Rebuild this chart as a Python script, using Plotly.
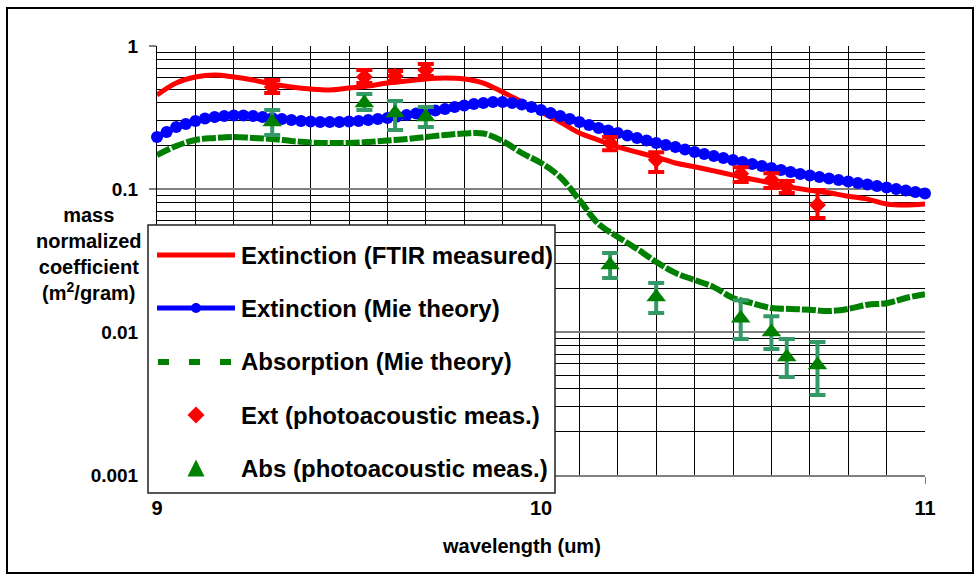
import plotly.graph_objects as go

# ---------------- data ----------------
wl_curve = [9.00, 9.05, 9.10, 9.15, 9.20, 9.25, 9.30, 9.35, 9.40, 9.45,
            9.50, 9.55, 9.60, 9.65, 9.70, 9.75, 9.80, 9.85, 9.90, 9.95,
            10.00, 10.05, 10.10, 10.15, 10.20, 10.25, 10.30, 10.35, 10.40, 10.45,
            10.50, 10.55, 10.60, 10.65, 10.70, 10.75, 10.80, 10.85, 10.90, 10.95,
            11.00]

ext_ftir = [0.454, 0.551, 0.607, 0.627, 0.607, 0.578, 0.542, 0.517, 0.500, 0.492,
            0.508, 0.525, 0.551, 0.569, 0.588, 0.597, 0.588, 0.551, 0.477, 0.406,
            0.346, 0.294, 0.246, 0.220, 0.197, 0.181, 0.167, 0.152, 0.143, 0.134,
            0.125, 0.117, 0.110, 0.103, 0.098, 0.094, 0.089, 0.085, 0.0785, 0.0773,
            0.0785]

abs_mie = [0.1729, 0.1998, 0.2202, 0.2273, 0.2311, 0.2273, 0.2237, 0.2166, 0.2114, 0.2098,
           0.2098, 0.2132, 0.2184, 0.2237, 0.2311, 0.2385, 0.2443, 0.2443, 0.2166, 0.1785,
           0.1520, 0.1213, 0.0838, 0.0570, 0.0462, 0.0381, 0.0309, 0.0259, 0.0231, 0.0206,
           0.0173, 0.0159, 0.0147, 0.0145, 0.0143, 0.0140, 0.0145, 0.0155, 0.0159, 0.0173,
           0.0184]

wl_mie = [9.000, 9.025, 9.050, 9.075, 9.100, 9.125, 9.150, 9.175, 9.200, 9.225,
          9.250, 9.275, 9.300, 9.325, 9.350, 9.375, 9.400, 9.425, 9.450, 9.475,
          9.500, 9.525, 9.550, 9.575, 9.600, 9.625, 9.650, 9.675, 9.700, 9.725,
          9.750, 9.775, 9.800, 9.825, 9.850, 9.875, 9.900, 9.925, 9.950, 9.975,
          10.000, 10.025, 10.050, 10.075, 10.100, 10.125, 10.150, 10.175, 10.200, 10.225,
          10.250, 10.275, 10.300, 10.325, 10.350, 10.375, 10.400, 10.425, 10.450, 10.475,
          10.500, 10.525, 10.550, 10.575, 10.600, 10.625, 10.650, 10.675, 10.700, 10.725,
          10.750, 10.775, 10.800, 10.825, 10.850, 10.875, 10.900, 10.925, 10.950, 10.975,
          11.000]

ext_mie = [0.2311, 0.2504, 0.2715, 0.2848, 0.2989, 0.3112, 0.3188, 0.3240, 0.3266, 0.3266,
           0.3240, 0.3188, 0.3137, 0.3087, 0.3038, 0.2989, 0.2965, 0.2941, 0.2941, 0.2941,
           0.2965, 0.2989, 0.3038, 0.3087, 0.3137, 0.3214, 0.3293, 0.3373, 0.3455, 0.3540,
           0.3626, 0.3745, 0.3836, 0.3930, 0.3994, 0.4059, 0.4059, 0.3994, 0.3899, 0.3745,
           0.3568, 0.3400, 0.3240, 0.3087, 0.2941, 0.2803, 0.2671, 0.2565, 0.2464, 0.2366,
           0.2273, 0.2184, 0.2098, 0.2031, 0.1966, 0.1889, 0.1814, 0.1757, 0.1702, 0.1647,
           0.1595, 0.1545, 0.1495, 0.1448, 0.1402, 0.1358, 0.1315, 0.1273, 0.1243, 0.1213,
           0.1184, 0.1156, 0.1128, 0.1101, 0.1075, 0.1050, 0.1024, 0.1000, 0.0976, 0.0953,
           0.0930]

wl_pa = [9.30, 9.54, 9.62, 9.70, 10.18, 10.30, 10.52, 10.60, 10.64, 10.72]
ext_pa = [0.517, 0.607, 0.617, 0.680, 0.210, 0.160, 0.128, 0.1156, 0.1033, 0.0773]
ext_pa_hi = [0.578, 0.680, 0.669, 0.748, 0.231, 0.181, 0.142, 0.129, 0.1138, 0.0984]
ext_pa_lo = [0.469, 0.551, 0.569, 0.617, 0.187, 0.1315, 0.112, 0.1016, 0.0938, 0.0627]
abs_pa = [0.294, 0.399, 0.340, 0.319, 0.0294, 0.0176, 0.0125, 0.0100, 0.00668, 0.00588]
abs_pa_hi = [0.357, 0.462, 0.4125, 0.3745, 0.0357, 0.0220, 0.0167, 0.0129, 0.00893, 0.0085]
abs_pa_lo = [0.239, 0.357, 0.259, 0.2715, 0.0239, 0.0136, 0.00893, 0.0076, 0.00485, 0.00363]

series_names = ["Extinction (FTIR measured)", "Extinction (Mie theory)",
                "Absorption (Mie theory)", "Ext (photoacoustic meas.)",
                "Abs (photoacoustic meas.)"]

y_tickvals = [0.001, 0.01, 0.1, 1]
y_ticktext = ["0.001", "0.01", "0.1", "1"]
y_minorvals = [0.002, 0.003, 0.004, 0.005, 0.006, 0.007, 0.008, 0.009,
               0.02, 0.03, 0.04, 0.05, 0.06, 0.07, 0.08, 0.09,
               0.2, 0.3, 0.4, 0.5, 0.6, 0.7, 0.8, 0.9]
x_tickvals = [9, 10, 11]
x_ticktext = ["9", "10", "11"]

y_title = "mass<br>normalized<br>coefficient<br>(m<sup>2</sup>/gram)"
x_title = "wavelength (um)"

# ---------------- colours / fonts ----------------
RED = "#FF0000"
BLUE = "#0000FF"
GREEN = "#008000"
ERR_GREEN = "#339966"
FONT = "Arial, 'Liberation Sans', sans-serif"

W, H = 980, 581
PL, PR, PT, PB = 157, 925, 46, 475


def fx(px):
    return (px - PL) / (PR - PL)


def fy(py):
    return (PB - py) / (PB - PT)


fig = go.Figure()

fig.add_trace(go.Scatter(
    x=wl_curve, y=ext_ftir, mode="lines", name=series_names[0],
    line=dict(color=RED, width=5, shape="spline"), showlegend=False))

fig.add_trace(go.Scatter(
    x=wl_mie, y=ext_mie, mode="lines+markers", name=series_names[1],
    line=dict(color=BLUE, width=6),
    marker=dict(symbol="circle", size=12, color=BLUE, line=dict(width=0)),
    cliponaxis=False, showlegend=False))

fig.add_trace(go.Scatter(
    x=wl_curve, y=abs_mie, mode="lines", name=series_names[2],
    line=dict(color=GREEN, width=6, shape="spline", dash="14px,2px"),
    showlegend=False))

fig.add_trace(go.Scatter(
    x=wl_pa, y=ext_pa, mode="markers", name=series_names[3],
    marker=dict(symbol="diamond", size=13, color=RED, line=dict(width=0)),
    error_y=dict(type="data", symmetric=False,
                 array=[h - v for h, v in zip(ext_pa_hi, ext_pa)],
                 arrayminus=[v - l for v, l in zip(ext_pa, ext_pa_lo)],
                 color=RED, thickness=4, width=8),
    showlegend=False))

fig.add_trace(go.Scatter(
    x=wl_pa, y=abs_pa, mode="markers", name=series_names[4],
    marker=dict(symbol="triangle-up", size=17, color=GREEN, line=dict(width=0)),
    error_y=dict(type="data", symmetric=False,
                 array=[h - v for h, v in zip(abs_pa_hi, abs_pa)],
                 arrayminus=[v - l for v, l in zip(abs_pa, abs_pa_lo)],
                 color=ERR_GREEN, thickness=4, width=8),
    showlegend=False))

# ---------------- custom legend (box, symbols, text) ----------------
rows = [255, 308, 362, 415, 468]
shapes = [
    # outer chart frame
    dict(type="rect", xref="paper", yref="paper", x0=fx(7), x1=fx(973),
         y0=fy(573), y1=fy(8), line=dict(color="black", width=2), layer="below"),
    # legend box
    dict(type="rect", xref="paper", yref="paper", x0=fx(148), x1=fx(555),
         y0=fy(493), y1=fy(225), fillcolor="white",
         line=dict(color="#222222", width=1.5), layer="above"),
    dict(type="line", xref="paper", yref="paper", x0=fx(157), x1=fx(235),
         y0=fy(rows[0]), y1=fy(rows[0]), line=dict(color=RED, width=5), layer="above"),
    dict(type="line", xref="paper", yref="paper", x0=fx(157), x1=fx(235),
         y0=fy(rows[1]), y1=fy(rows[1]), line=dict(color=BLUE, width=5), layer="above"),
    dict(type="circle", xref="paper", yref="paper", x0=fx(191), x1=fx(201),
         y0=fy(rows[1] + 5), y1=fy(rows[1] - 5), fillcolor=BLUE,
         line=dict(color=BLUE, width=0), layer="above"),
    dict(type="line", xref="paper", yref="paper", x0=fx(158), x1=fx(231),
         y0=fy(rows[2]), y1=fy(rows[2]),
         line=dict(color=GREEN, width=6, dash="11px,20px"), layer="above"),
    dict(type="path", xref="paper", yref="paper",
         path=(f"M{fx(187.5)},{fy(rows[3])} L{fx(196)},{fy(rows[3] - 8.5)} "
               f"L{fx(204.5)},{fy(rows[3])} L{fx(196)},{fy(rows[3] + 8.5)} Z"),
         fillcolor=RED, line=dict(color=RED, width=0), layer="above"),
    dict(type="path", xref="paper", yref="paper",
         path=(f"M{fx(187.5)},{fy(rows[4] + 8.5)} L{fx(196)},{fy(rows[4] - 8.5)} "
               f"L{fx(204.5)},{fy(rows[4] + 8.5)} Z"),
         fillcolor=GREEN, line=dict(color=GREEN, width=0), layer="above"),
]

annotations = []
for name, r in zip(series_names, rows):
    annotations.append(dict(
        xref="paper", yref="paper", x=fx(239), y=fy(r), xanchor="left",
        yanchor="middle", text=f"<b>{name}</b>", showarrow=False,
        font=dict(family=FONT, size=24, color="black")))

annotations.append(dict(
    xref="paper", yref="paper", x=fx(89), y=fy(254), xanchor="center",
    yanchor="middle", align="center", text=f"<b>{y_title}</b>", showarrow=False,
    font=dict(family=FONT, size=20, color="black")))
annotations.append(dict(
    xref="paper", yref="paper", x=fx(521), y=fy(546), xanchor="center",
    yanchor="middle", text=f"<b>{x_title}</b>", showarrow=False,
    font=dict(family=FONT, size=20, color="black")))

fig.update_layout(
    width=W, height=H,
    margin=dict(l=PL, r=W - PR, t=PT, b=H - PB, pad=0),
    paper_bgcolor="white", plot_bgcolor="white",
    font=dict(family=FONT, color="black"),
    showlegend=False,
    shapes=shapes,
    annotations=annotations,
    xaxis=dict(
        range=[9, 11], tickmode="array", tickvals=x_tickvals, ticktext=x_ticktext,
        tickfont=dict(family=FONT, size=20, color="black", weight="bold"),
        ticks="outside", ticklen=7, tickwidth=1, tickcolor="#808080",
        ticklabelstandoff=7,
        showline=True, linecolor="#808080", linewidth=2,
        showgrid=True, gridcolor="black", gridwidth=1,
        minor=dict(dtick=0.1, tick0=9, showgrid=True, gridcolor="black",
                   gridwidth=1, ticks=""),
        zeroline=False, layer="below traces"),
    yaxis=dict(
        type="log", range=[-3, 0], tickmode="array", tickvals=y_tickvals,
        ticktext=y_ticktext,
        tickfont=dict(family=FONT, size=19, color="black", weight="bold"),
        ticks="outside", ticklen=7, tickwidth=2, tickcolor="#808080",
        ticklabelstandoff=7,
        showline=True, linecolor="black", linewidth=1,
        showgrid=True, gridcolor="#808080", gridwidth=2,
        minor=dict(tickmode="array", tickvals=y_minorvals, showgrid=True,
                   gridcolor="black", gridwidth=1, ticks=""),
        zeroline=False, layer="below traces"),
)

fig.write_html("out.html", config={"displayModeBar": False},
               post_script="document.body.style.margin='0';")
